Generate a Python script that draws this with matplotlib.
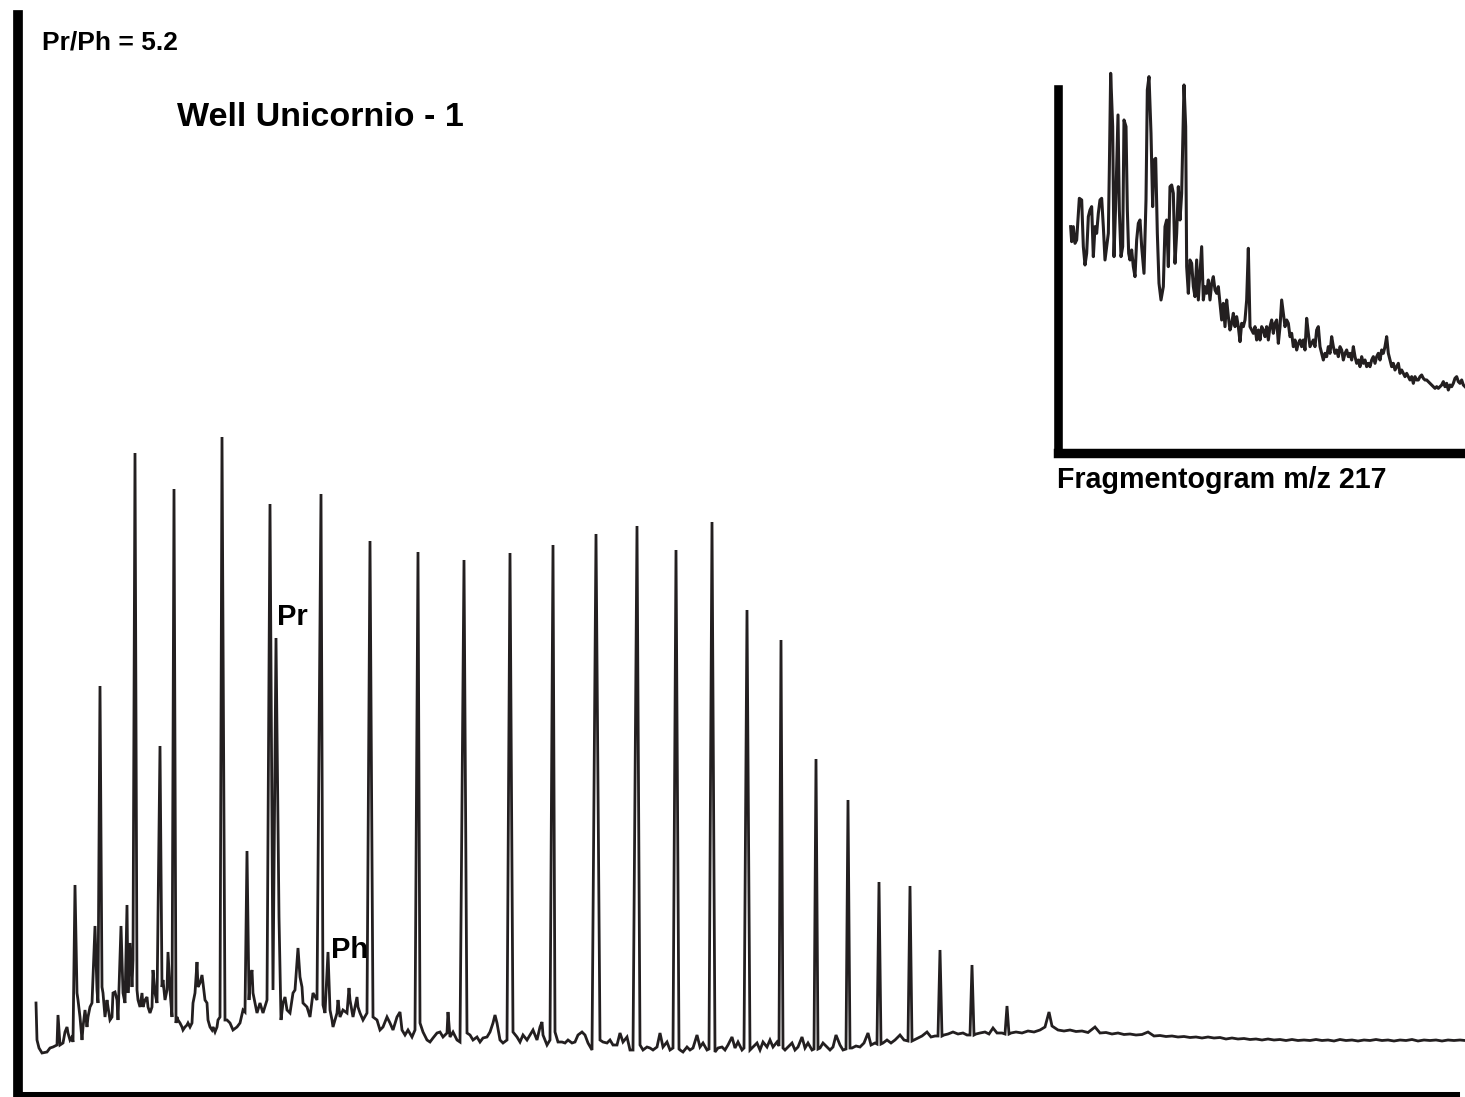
import numpy as np
import matplotlib
matplotlib.use("Agg")
import matplotlib.pyplot as plt

plt.rcParams["font.family"] = ["Liberation Sans", "DejaVu Sans"]

# ---- main TIC trace (retention time in min, detector response) ----
# n-alkane peaks
alk_t = [3.75, 5.00, 6.75, 8.00, 8.70, 11.10, 12.35, 13.50, 16.05, 18.50,
         20.90, 23.20, 25.50, 27.65, 29.80, 31.85, 33.80, 35.60, 37.35, 39.05,
         40.80, 42.40, 43.95, 45.50, 47.00, 48.60, 50.35]
alk_i = [21.1, 41.0, 64.3, 35.0, 60.7, 65.9, 24.5, 59.2, 60.2, 55.5,
         54.4, 53.6, 54.3, 55.1, 56.2, 57.0, 54.6, 57.4, 48.6, 45.6,
         33.7, 29.6, 21.4, 21.0, 14.6, 13.1, 9.0]

# isoprenoids
pr_t, pr_i = 13.80, 45.8
ph_t, ph_i = 16.40, 14.4

# minor peaks
minor_t = [2.90, 4.75, 6.05, 6.35, 6.50, 7.65, 8.40, 9.85, 12.60, 13.95,
           14.90, 17.45, 20.00, 22.40, 24.75, 27.10, 52.45, 54.75, 57.40]
minor_i = [8.1, 17.0, 17.0, 19.1, 15.3, 12.6, 14.4, 13.4, 12.6, 17.9,
           14.8, 10.8, 8.4, 8.4, 8.1, 7.4, 8.4, 6.9, 6.4]

# baseline / unresolved hump
base_t = [1.80, 1.85, 1.95, 2.10, 2.35, 2.50, 2.65, 2.85, 3.00, 3.15, 3.25, 3.35, 3.40, 3.50,
          3.60, 3.65, 3.85, 3.90, 4.00, 4.10, 4.15, 4.25, 4.35, 4.40, 4.50, 4.60, 4.85, 4.90,
          5.10, 5.15, 5.25, 5.35, 5.40, 5.50, 5.60, 5.65, 5.75, 5.85, 5.90, 6.15, 6.25, 6.40,
          6.60, 6.65, 6.85, 6.90, 7.00, 7.10, 7.15, 7.25, 7.35, 7.40, 7.50, 7.60, 7.75, 7.85,
          8.10, 8.15, 8.25, 8.35, 8.50, 8.60, 8.80, 8.85, 8.90, 9.00, 9.10, 9.15, 9.25, 9.35,
          9.40, 9.50, 9.60, 9.65, 9.75, 9.90, 10.00, 10.10, 10.15, 10.25, 10.35, 10.40, 10.50,
          10.60, 10.65, 10.75, 10.85, 10.90, 11.00, 11.25, 11.35, 11.50, 11.65, 11.85, 12.00,
          12.15, 12.25, 12.45, 12.50, 12.65, 12.85, 13.00, 13.15, 13.35, 13.65, 14.05, 14.15,
          14.25, 14.35, 14.50, 14.65, 14.75, 15.00, 15.10, 15.15, 15.35, 15.50, 15.65, 15.85,
          16.15, 16.25, 16.50, 16.60, 16.65, 16.85, 16.90, 17.00, 17.15, 17.35, 17.50, 17.65,
          17.85, 17.90, 18.00, 18.15, 18.35, 18.65, 18.85, 19.00, 19.15, 19.35, 19.50, 19.65,
          19.85, 20.10, 20.25, 20.40, 20.60, 20.75, 21.00, 21.15, 21.35, 21.50, 21.65, 21.85,
          22.00, 22.15, 22.35, 22.50, 22.65, 22.85, 23.00, 23.35, 23.50, 23.65, 23.85, 24.00,
          24.15, 24.35, 24.50, 24.65, 24.85, 25.00, 25.15, 25.35, 25.65, 25.85, 26.00, 26.15,
          26.35, 26.50, 26.65, 26.85, 27.00, 27.15, 27.35, 27.50, 27.75, 27.90, 28.10, 28.25,
          28.40, 28.60, 28.75, 28.90, 29.10, 29.25, 29.40, 29.60, 30.00, 30.15, 30.35, 30.50,
          30.65, 30.85, 31.00, 31.15, 31.35, 31.50, 31.65, 32.00, 32.15, 32.35, 32.50, 32.65,
          32.85, 33.00, 33.15, 33.35, 33.50, 33.65, 33.95, 34.00, 34.15, 34.35, 34.50, 34.65,
          34.85, 35.00, 35.15, 35.35, 35.45, 35.75, 35.90, 36.10, 36.25, 36.40, 36.60, 36.75,
          36.90, 37.10, 37.20, 37.50, 37.65, 37.85, 38.00, 38.15, 38.35, 38.50, 38.65, 38.85,
          38.95, 39.15, 39.25, 39.40, 39.60, 39.75, 39.90, 40.10, 40.25, 40.40, 40.60, 40.70,
          40.90, 41.00, 41.15, 41.35, 41.50, 41.65, 41.80, 42.00, 42.15, 42.30, 42.50, 42.60,
          42.80, 43.00, 43.20, 43.40, 43.55, 43.75, 43.85, 44.05, 44.15, 44.35, 44.55, 44.75,
          45.00, 45.20, 45.40, 45.60, 45.70, 45.90, 46.10, 46.35, 46.55, 46.75, 46.90, 47.10,
          47.20, 47.40, 47.65, 47.90, 48.15, 48.35, 48.50, 48.70, 48.80, 49.00, 49.25, 49.45,
          49.65, 49.85, 50.10, 50.25, 50.45, 50.55, 50.80, 51.10, 51.40, 51.70, 52.00, 52.25,
          52.60]
base_i = [9.3, 5.6, 4.8, 4.3, 4.4, 4.8, 4.9, 5.1, 5.1, 5.3, 6.4, 6.9, 6.3, 5.6,
          5.9, 5.4, 10.3, 9.6, 7.9, 5.6, 6.9, 8.6, 6.9, 7.9, 8.9, 9.3, 10.6, 9.3,
          10.9, 10.3, 7.9, 9.6, 8.9, 7.6, 7.9, 10.3, 10.4, 9.6, 7.6, 10.3, 9.3, 10.3,
          10.9, 13.6, 10.6, 9.6, 8.9, 10.3, 8.9, 9.6, 9.9, 8.9, 8.3, 8.9, 10.3, 9.3,
          10.9, 11.6, 9.6, 10.6, 10.6, 7.9, 7.3, 7.9, 7.6, 7.3, 6.9, 6.6, 6.9, 7.1,
          7.3, 6.9, 7.3, 9.3, 10.3, 10.9, 11.3, 12.1, 11.3, 9.6, 9.3, 7.6, 6.9,
          6.6, 6.9, 6.4, 6.9, 7.6, 7.9, 7.6, 7.6, 7.3, 6.6, 6.9, 7.3,
          8.6, 8.4, 9.6, 11.6, 10.3, 8.3, 9.3, 8.3, 9.6, 10.6, 7.6, 9.3,
          9.9, 8.6, 8.3, 10.3, 10.6, 11.9, 10.9, 9.3, 8.9, 7.9, 10.3, 9.6,
          9.1, 8.3, 8.6, 7.6, 6.9, 8.3, 9.6, 7.9, 8.6, 8.3, 9.6, 7.9,
          9.9, 8.9, 8.3, 7.6, 8.3, 7.9, 7.6, 6.6, 6.9, 7.9, 7.3, 6.6,
          7.9, 6.6, 6.1, 6.6, 5.9, 6.6, 7.3, 6.4, 5.6, 5.4, 5.8, 6.3,
          6.4, 5.9, 6.3, 5.9, 6.4, 5.6, 5.4, 6.3, 6.1, 5.6, 5.9, 5.4,
          5.8, 5.9, 6.4, 7.3, 7.3, 5.6, 5.3, 5.6, 6.4, 5.9, 5.4, 6.1,
          5.6, 6.1, 6.6, 5.6, 6.9, 6.1, 5.1, 5.6, 6.4, 5.4, 5.4, 5.3,
          5.6, 5.3, 5.4, 6.1, 6.4, 6.1, 5.3, 4.6, 5.6, 5.4, 5.3, 5.6,
          5.1, 5.1, 6.3, 5.4, 5.9, 4.6, 4.6, 5.1, 4.6, 4.9, 4.8, 4.6,
          4.9, 6.3, 4.9, 5.4, 4.6, 4.8, 4.7, 4.6, 4.4, 4.9, 4.6, 4.8,
          6.1, 4.9, 5.3, 4.6, 4.7, 4.4, 4.8, 4.9, 4.6, 5.1, 5.9, 4.8,
          5.4, 4.6, 4.8, 4.6, 4.9, 5.3, 4.6, 5.4, 4.9, 5.6, 4.9, 5.4,
          5.0, 4.8, 4.6, 4.9, 5.3, 4.6, 4.9, 5.9, 4.8, 5.3, 4.6, 4.7,
          4.7, 4.8, 5.3, 4.9, 4.6, 4.9, 6.1, 5.1, 4.6, 4.7, 4.8, 4.8,
          5.0, 4.9, 5.3, 6.3, 5.1, 5.3, 5.2, 5.2, 5.3, 5.6, 5.3, 5.6,
          6.1, 5.6, 5.5, 5.5, 5.6, 5.8, 6.0, 6.4, 5.9, 6.0, 6.0, 6.0,
          6.1, 6.2, 6.4, 6.2, 6.3, 6.1, 6.1, 6.1, 6.2, 6.3, 6.4, 6.2,
          6.8, 6.3, 6.3, 6.2, 6.2, 6.3, 6.4, 6.3, 6.5, 6.4, 6.6, 6.9,
          7.0]

# late, nearly flat section of the trace
tail_t = [52.90, 53.20, 53.50, 53.80, 54.10, 54.40, 55.00, 55.30, 55.60, 55.90, 56.20,
          56.50, 56.80, 57.10, 57.70, 58.00, 58.30, 58.60, 58.90, 59.20, 59.50, 59.80,
          60.10, 60.40, 60.70, 61.00, 61.30, 61.60, 61.90, 62.20, 62.50, 62.80, 63.10,
          63.40, 63.70, 64.00, 64.30, 64.60, 64.90, 65.20, 65.50, 65.80, 66.10, 66.40,
          66.70, 67.00, 67.30, 67.60, 67.90, 68.20, 68.50, 68.80, 69.10, 69.40, 69.70,
          70.00, 70.30, 70.60, 70.90, 71.20, 71.50, 71.80, 72.10, 72.40, 72.70, 73.00, 73.25]
tail_i = [6.60, 6.50, 6.60, 6.45, 6.50, 6.35, 6.30, 6.35, 6.20, 6.30, 6.15,
          6.20, 6.10, 6.15, 6.00, 6.05, 5.95, 6.00, 5.90, 5.95, 5.85, 5.90,
          5.80, 5.90, 5.80, 5.85, 5.70, 5.80, 5.70, 5.75, 5.65, 5.70, 5.60,
          5.70, 5.60, 5.65, 5.55, 5.65, 5.55, 5.60, 5.55, 5.65, 5.55, 5.60,
          5.50, 5.65, 5.55, 5.60, 5.50, 5.60, 5.55, 5.65, 5.55, 5.60, 5.50,
          5.60, 5.55, 5.65, 5.50, 5.60, 5.55, 5.60, 5.50, 5.60, 5.55, 5.60, 5.55]

# ---- inset: fragmentogram m/z 217 (scan, abundance) ----
frag_scan = [92, 95, 100, 105, 110, 118, 125, 130, 135, 140, 145, 150, 155, 160, 165, 170,
             175, 180, 185, 190, 195, 200, 205, 208, 212, 218, 222, 228, 234, 238, 243, 248,
             252, 258, 262, 266, 270, 275, 280, 285, 290, 295, 300, 305, 312, 318, 322, 327,
             333, 338, 342, 347, 352, 357, 363, 370, 375, 380, 385, 390, 395, 400, 405, 410,
             415, 420, 425, 432, 437, 440, 445, 450, 455, 460, 465, 470, 475, 480, 485, 490,
             495, 500, 505, 510, 515, 520, 525, 530, 535, 540, 545, 550, 555, 560, 565, 570,
             575, 580, 585, 590, 595, 600, 605, 610, 615, 620, 625, 630, 635, 640, 645, 650,
             655, 660, 665, 670, 675, 680, 685, 690, 695, 700, 705, 710, 715, 720, 725, 730,
             735, 740, 745, 750, 755, 760, 765, 770, 775, 780, 785, 790, 795, 800, 805, 810,
             815, 820, 825, 830, 835, 840, 845, 850, 855, 860, 865, 870, 875, 880, 885, 890,
             895, 900, 905, 910, 915, 920, 925, 930, 935, 940, 945, 950, 955, 960, 965, 970,
             975, 980, 985, 990, 995, 1000, 1005, 1010, 1015, 1020, 1025, 1030, 1035, 1040,
             1045, 1050, 1055, 1060, 1065, 1070, 1075, 1080, 1085, 1090, 1095, 1100, 1105,
             1110, 1115, 1120, 1125, 1130, 1135, 1140, 1145, 1150, 1155, 1160, 1165, 1170,
             1175, 1180, 1185, 1190, 1195, 1200, 1205, 1210, 1215, 1220, 1225, 1230, 1235,
             1240, 1245, 1250, 1255, 1260, 1265, 1270, 1275]
frag_abund = [679, 634, 679, 629, 639, 764, 759, 619, 564, 599, 709, 729, 739, 589, 679, 659,
              719, 759, 764, 679, 579, 619, 659, 849, 1139, 979, 589, 779, 1014, 729, 589, 619,
              999, 979, 729, 599, 579, 609, 559, 529, 639, 689, 699, 619, 539, 759, 1089, 1129,
              959, 739, 879, 884, 659, 509, 459, 499, 679, 699, 559, 799, 804, 779, 569, 659,
              799, 699, 779, 1104, 979, 559, 479, 579, 569, 499, 469, 579, 459, 539, 619, 459,
              499, 479, 519, 459, 509, 529, 489, 479, 499, 449, 399, 449, 379, 459, 409, 369,
              389, 419, 379, 409, 379, 334, 389, 379, 399, 459, 614, 379, 369, 359, 379, 339,
              369, 339, 379, 369, 349, 379, 339, 379, 399, 359, 389, 399, 329, 379, 459, 419,
              379, 399, 389, 349, 359, 319, 339, 309, 329, 339, 319, 339, 309, 404, 359, 319,
              329, 339, 319, 369, 379, 319, 299, 279, 299, 289, 319, 299, 349, 319, 299, 309,
              289, 319, 309, 279, 299, 309, 289, 299, 279, 319, 289, 269, 279, 259, 289, 269,
              279, 259, 269, 259, 279, 289, 269, 289, 299, 279, 309, 299, 319, 349,
              299, 279, 259, 269, 249, 259, 269, 239, 249, 239, 229, 239, 229,
              219, 229, 209, 229, 219, 219, 229, 234, 224, 219, 219, 214, 209,
              204, 199, 194, 199, 194, 199, 204, 214, 199, 209, 189, 204, 199,
              209, 224, 229, 214, 209, 219, 204, 199]

INK = "#231f20"
W, H = 1465, 1097

fig = plt.figure(figsize=(W / 100, H / 100), dpi=100)

# main chromatogram axes (placed in pixel terms of the original figure)
ax = fig.add_axes([18 / W, 1 - 1096 / H, (1455 - 18) / W, (1096 - 15) / H])
t = np.concatenate([alk_t, minor_t, base_t, tail_t, [pr_t, ph_t]])
i = np.concatenate([alk_i, minor_i, base_i, tail_i, [pr_i, ph_i]])
order = np.argsort(t, kind="stable")
ax.plot(t[order], i[order], color=INK, lw=2.0, solid_joinstyle="miter", clip_on=False)
ax.set_xlim(0.9, 72.75)
ax.set_ylim(0, 108.1)
for s in ["top", "right"]:
    ax.spines[s].set_visible(False)
ax.spines["left"].set_linewidth(7)
ax.spines["bottom"].set_linewidth(6.5)
for s in ["left", "bottom"]:
    ax.spines[s].set_color("black")
ax.set_xticks([])
ax.set_yticks([])
ax.patch.set_alpha(0)

ax.annotate("Pr", xy=(pr_t, pr_i), xytext=(0.7, 9.4), textcoords="offset points",
            fontsize=21, fontweight="bold", ha="left", va="baseline", color="black")
ax.annotate("Ph", xy=(ph_t, ph_i), xytext=(2.2, -4.3), textcoords="offset points",
            fontsize=21, fontweight="bold", ha="left", va="baseline", color="black")

# inset: m/z 217 fragmentogram
ins = fig.add_axes([1057.5 / W, 1 - 453 / H, (W - 1057.5) / W, (453 - 89.3) / H])
ins.plot(frag_scan, frag_abund, color=INK, lw=2.2, clip_on=False)
ins.set_xlim(52.5, 1275)
ins.set_ylim(0, 1091)
for s in ["top", "right"]:
    ins.spines[s].set_visible(False)
ins.spines["left"].set_linewidth(6.2)
ins.spines["bottom"].set_linewidth(6.8)
ins.spines["bottom"].set_capstyle("projecting")
for s in ["left", "bottom"]:
    ins.spines[s].set_color("black")
ins.set_xticks([])
ins.set_yticks([])
ins.patch.set_alpha(0)

fig.text(42 / W, 1 - 50 / H, "Pr/Ph = 5.2", fontsize=19, fontweight="bold",
         ha="left", va="baseline")
fig.text(177 / W, 1 - 126 / H, "Well Unicornio - 1", fontsize=24.5, fontweight="bold",
         ha="left", va="baseline")
fig.text(1057 / W, 1 - 488 / H, "Fragmentogram m/z 217", fontsize=20.6, fontweight="bold",
         ha="left", va="baseline")

fig.savefig("out.png", dpi=100)
